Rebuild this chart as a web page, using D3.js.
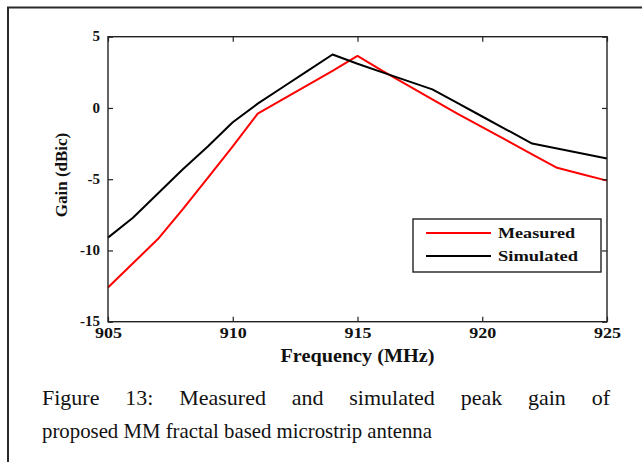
<!DOCTYPE html>
<html><head><meta charset="utf-8">
<script src="https://cdn.jsdelivr.net/npm/d3@7"></script>
<style>
html,body{margin:0;padding:0;background:#fff;}
svg{display:block;}
</style></head>
<body>
<svg id="chart" width="642" height="462"></svg>
<script>
// ---- data ----
const frequency = [905,906,907,908,909,910,911,912,913,914,915,916,917,918,919,920,921,922,923,924,925];
const measured  = [-12.6,-10.9,-9.2,-7.1,-4.9,-2.7,-0.4,0.6,1.6,2.6,3.65,2.6,1.6,0.6,-0.4,-1.35,-2.3,-3.25,-4.2,-4.65,-5.1];
const simulated = [-9.1,-7.7,-6.0,-4.3,-2.7,-1.0,0.3,1.45,2.6,3.75,3.1,2.5,1.9,1.3,0.35,-0.6,-1.55,-2.5,-2.85,-3.2,-3.55];
const xTicks = [905,910,915,920,925];
const yTicks = [5,0,-5,-10,-15];
const seriesNames = ["Measured","Simulated"];
const seriesColors = ["#ff0000","#000000"];
const xLabel = "Frequency (MHz)";
const yLabel = "Gain (dBic)";
const captionLines = ["Figure 13: Measured and simulated peak gain of","proposed MM fractal based microstrip antenna"];

const svg = d3.select("#chart");
const serif = "'Liberation Serif','Times New Roman',serif";

// outer frame
svg.append("path").attr("d","M8,462 L8,7.5 L642,7.5")
  .attr("fill","none").attr("stroke","#2a2a2a").attr("stroke-width",2);

const L=108, R=607, T=36.7, B=321.7;
const x = d3.scaleLinear().domain([905,925]).range([L,R]);
const y = d3.scaleLinear().domain([-15,5]).range([B,T]);

const g = svg.append("g");

// lines
const series = [measured, simulated];
const line = d3.line().x((d,i)=>x(frequency[i])).y(d=>y(d));
series.forEach((s,k)=>{
  g.append("path").datum(s).attr("d",line)
    .attr("fill","none").attr("stroke",seriesColors[k]).attr("stroke-width",2)
    .attr("stroke-linejoin","round");
});

// axes (ticks inward on all sides)
const fmt = d => String(d);
function styleAxis(sel){
  sel.select(".domain").remove();
  sel.selectAll(".tick line").attr("stroke","#222").attr("stroke-width",1.2);
  sel.selectAll("text").attr("font-family",serif).attr("font-weight","bold")
     .attr("font-size",15).attr("fill","#111");
}
const xb = g.append("g").attr("transform",`translate(0,${B})`)
  .call(d3.axisBottom(x).tickValues(xTicks).tickSize(-5).tickPadding(6).tickFormat(fmt));
styleAxis(xb);
xb.selectAll("text").attr("textLength",27).attr("lengthAdjust","spacingAndGlyphs");
const xt = g.append("g").attr("transform",`translate(0,${T})`)
  .call(d3.axisTop(x).tickValues(xTicks).tickSize(-5).tickFormat(""));
styleAxis(xt);
const yl = g.append("g").attr("transform",`translate(${L},0)`)
  .call(d3.axisLeft(y).tickValues(yTicks).tickSize(-5).tickPadding(8).tickFormat(fmt));
styleAxis(yl);
yl.selectAll("text").attr("dy","0.28em");
const yr = g.append("g").attr("transform",`translate(${R},0)`)
  .call(d3.axisRight(y).tickValues(yTicks).tickSize(-5).tickFormat(""));
styleAxis(yr);

// plot box
g.append("rect").attr("x",L).attr("y",T).attr("width",R-L).attr("height",B-T)
  .attr("fill","none").attr("stroke","#222").attr("stroke-width",1.4);

// axis labels
g.append("text").attr("x",(L+R)/2).attr("y",362).attr("text-anchor","middle")
  .attr("font-family",serif).attr("font-weight","bold").attr("font-size",18)
  .attr("textLength",154).attr("lengthAdjust","spacingAndGlyphs").attr("fill","#111")
  .text(xLabel);
g.append("text").attr("transform","translate(67,175) rotate(-90)").attr("text-anchor","middle")
  .attr("font-family",serif).attr("font-weight","bold").attr("font-size",17).attr("fill","#111")
  .text(yLabel);

// legend
const lg = g.append("g");
lg.append("rect").attr("x",413).attr("y",219).attr("width",188).attr("height",53)
  .attr("fill","#fff").attr("stroke","#222").attr("stroke-width",1.4);
seriesNames.forEach((n,k)=>{
  const yy = 233 + k*23;
  lg.append("line").attr("x1",426).attr("x2",491).attr("y1",yy).attr("y2",yy)
    .attr("stroke",seriesColors[k]).attr("stroke-width",2);
  lg.append("text").attr("x",498).attr("y",yy+5).attr("font-family",serif)
    .attr("font-weight","bold").attr("font-size",15).attr("fill","#111")
    .attr("textLength", k===0?77:80).attr("lengthAdjust","spacingAndGlyphs")
    .text(n);
});

// caption (first line justified)
const capX0=42, capX1=610, capSize=22;
captionLines.forEach((ln,i)=>{
  const by = 405 + i*33;
  if(i===0){
    const words = ln.split(" ");
    const tmp = words.map(w=>svg.append("text").attr("font-family",serif).attr("font-size",capSize).text(w));
    const widths = tmp.map(t=>t.node().getComputedTextLength());
    tmp.forEach(t=>t.remove());
    const total = d3.sum(widths);
    const gap = (capX1-capX0-total)/(words.length-1);
    let cx = capX0;
    words.forEach((w,j)=>{
      svg.append("text").attr("x",cx).attr("y",by).attr("font-family",serif)
        .attr("font-size",capSize).attr("fill","#111").text(w);
      cx += widths[j]+gap;
    });
  } else {
    svg.append("text").attr("x",capX0).attr("y",by).attr("font-family",serif)
      .attr("font-size",capSize).attr("fill","#111")
      .attr("textLength",390).attr("lengthAdjust","spacingAndGlyphs").text(ln);
  }
});
</script>
</body></html>
